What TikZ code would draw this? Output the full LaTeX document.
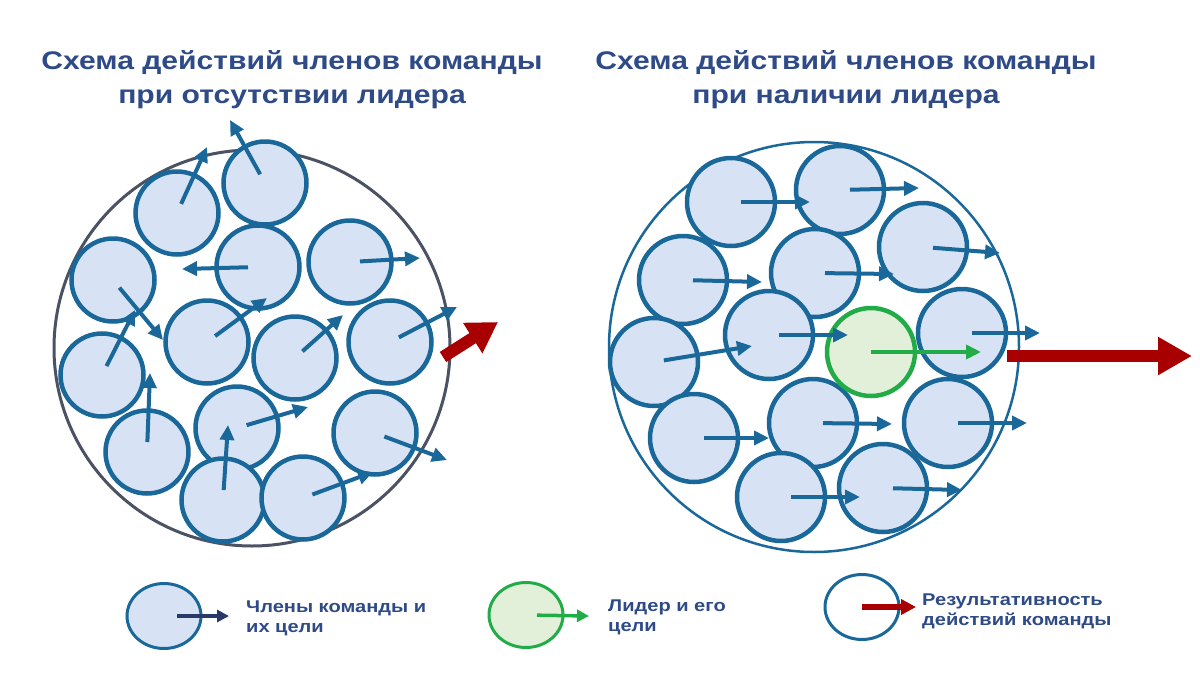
\documentclass[tikz,border=0pt]{standalone}
\usepackage{fontspec}
\setmainfont{Liberation Sans}[FakeStretch=1.18]
\usepackage{tikz}
\usetikzlibrary{arrows.meta,shapes.geometric}
\definecolor{tmblue}{RGB}{26,104,154}
\definecolor{tmfill}{RGB}{215,227,244}
\definecolor{tmgreen}{RGB}{34,172,72}
\definecolor{tmgreenfill}{RGB}{226,240,218}
\definecolor{tmred}{RGB}{168,0,0}
\definecolor{tmtext}{RGB}{46,74,135}
\definecolor{tmnavy}{RGB}{40,56,104}
\definecolor{tmgray}{RGB}{75,82,99}
\tikzset{
  tmtitle/.style={align=center, text=tmtext, inner sep=0pt, font=\fontsize{25.5}{34}\selectfont\bfseries},
  tmlabel/.style={align=left, text=tmtext, inner sep=0pt, anchor=west, font=\fontsize{17}{20}\selectfont\bfseries},
  tmteam/.style={circle, line width=3pt, inner sep=0pt},
  tmmember/.style={circle, draw=tmblue, fill=tmfill, line width=4.5pt, inner sep=0pt, minimum size=83pt},
  tmleader/.style={circle, draw=tmgreen, fill=tmgreenfill, line width=4.5pt, inner sep=0pt, minimum size=88pt},
  tmkey/.style={ellipse, line width=3pt, inner sep=0pt, minimum width=74pt, minimum height=65pt},
  tmgoal/.style={-{Triangle[length=15pt,width=14pt]}, draw=tmblue, line width=4pt, shorten <=10pt},
  tmresult/.style={-{Triangle[length=34pt,width=36pt]}, draw=tmred, line width=12pt}
}
\begin{document}
\begin{tikzpicture}[x=1pt,y=-1pt]
  \useasboundingbox (0,0) rectangle (1200,675);

  % titles
  \node[tmtitle] (tleft) at (292,80) {Схема действий членов команды\\при отсутствии лидера};
  \node[tmtitle] (tright) at (846,80) {Схема действий членов команды\\при наличии лидера};

  % left: no leader
  \node[tmteam, draw=tmgray, minimum size=396pt] (teaml) at (252,348) {};
  \foreach \i/\x/\y/\gx/\gy in {1/265/183/230/120, 2/177/213/207/147, 3/258/267/182/269,
      4/350/262/420/258, 5/113/280/163/340, 6/207/342/267/298, 7/295/358/343/315,
      8/390/342/457/307, 9/102/375/135/310, 10/147/452/150/373, 11/237/428/308/407,
      12/375/433/447/460, 13/223/500/228/425, 14/303/498/373/472}{
    \node[tmmember] (l\i) at (\x,\y) {};
    \coordinate (lg\i) at (\gx,\gy);
  }
  \foreach \i in {1,...,14}
    \draw[tmgoal] (l\i.center) -- (lg\i);
  \coordinate (rl1) at (443,357);
  \coordinate (rl2) at (498,322);
  \draw[tmresult, -{Triangle[length=30pt,width=34pt]}] (rl1) -- (rl2);

  % right: with a leader
  \node[tmteam, draw=tmblue, line width=2.5pt, minimum size=410pt] (teamr) at (814,347) {};
  \foreach \i/\x/\y/\gx/\gy in {1/731/202/810/202, 2/840/190/919/188, 3/923/247/1000/253,
      4/683/280/762/282, 5/815/273/894/274, 6/769/335/848/335, 8/962/333/1040/333,
      9/654/362/752/346, 10/694/438/769/438, 11/813/423/892/424, 12/948/423/1027/423,
      13/781/497/860/497, 14/883/488/962/490}{
    \node[tmmember, minimum size=88pt] (r\i) at (\x,\y) {};
    \coordinate (rg\i) at (\gx,\gy);
  }
  \node[tmleader] (lead) at (871,352) {};
  \coordinate (leadg) at (981,352);
  \foreach \i in {1,2,3,4,5,6,8,9,10,11,12,13,14}
    \draw[tmgoal] (r\i.center) -- (rg\i);
  \draw[tmgoal, draw=tmgreen, shorten <=0pt] (lead.center) -- (leadg);
  \coordinate (rr1) at (1007,356);
  \coordinate (rr2) at (1192,356);
  \draw[tmresult] (rr1) -- (rr2);

  % legend
  \node[tmkey, draw=tmblue, fill=tmfill] (k1) at (164,616) {};
  \coordinate (kg1) at (229,616);
  \draw[-{Triangle[length=12pt,width=12pt]}, draw=tmnavy, line width=3.5pt, shorten <=13pt] (k1.center) -- (kg1);
  \node[tmlabel] (t1) at (246,618) {Члены команды и\\их цели};

  \node[tmkey, draw=tmgreen, fill=tmgreenfill] (k2) at (526,615) {};
  \coordinate (kg2) at (589,616);
  \draw[-{Triangle[length=12pt,width=12pt]}, draw=tmgreen, line width=3.5pt, shorten <=11pt] (k2.center) -- (kg2);
  \node[tmlabel] (t2) at (608,617) {Лидер и его\\цели};

  \node[tmkey, draw=tmblue, fill=white] (k3) at (862,607) {};
  \coordinate (kg3) at (916,607);
  \draw[-{Triangle[length=15pt,width=15pt]}, draw=tmred, line width=6pt] (k3.center) -- (kg3);
  \node[tmlabel] (t3) at (922,611) {Результативность\\действий команды};
\end{tikzpicture}
\end{document}
